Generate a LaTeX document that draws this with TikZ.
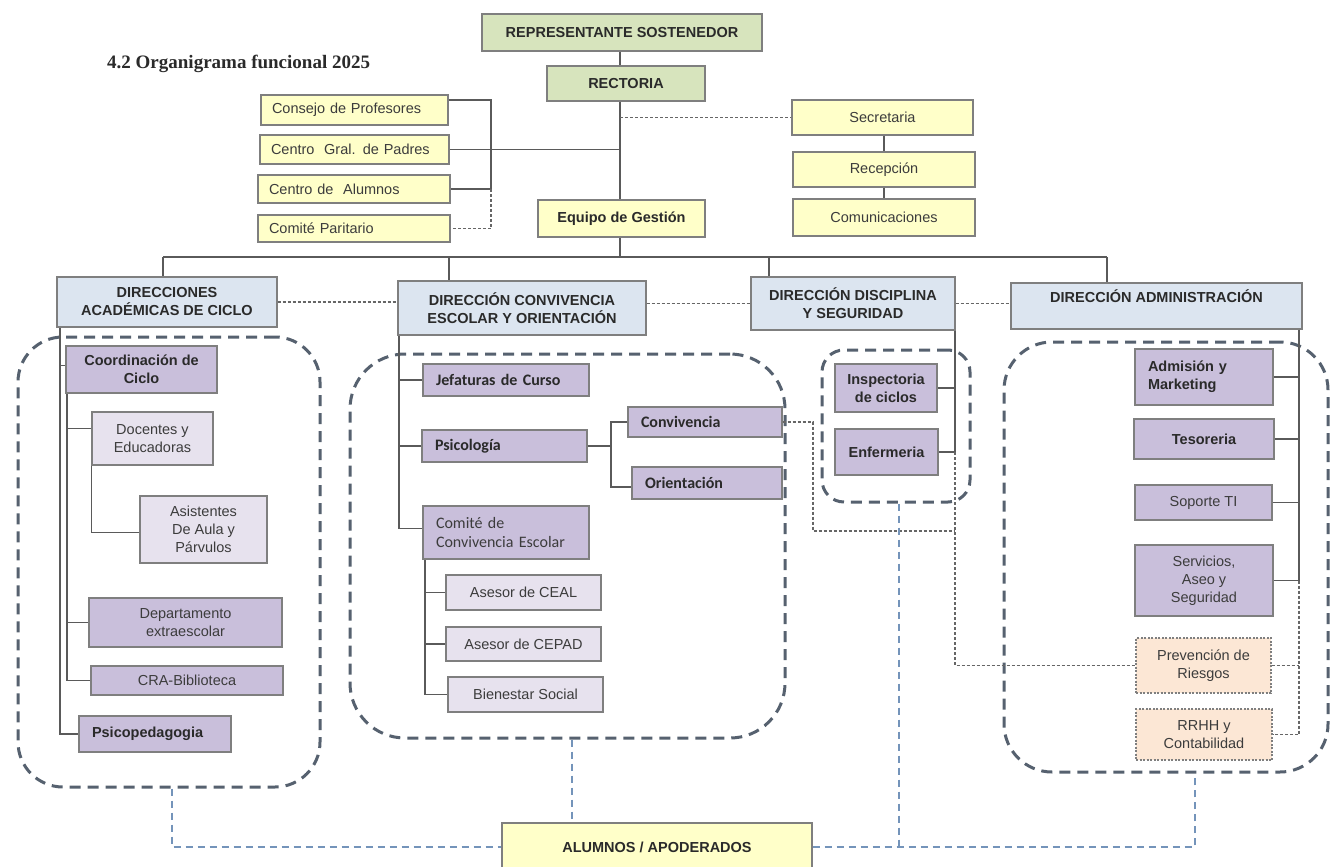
\documentclass[tikz,border=0pt]{standalone}
\usepackage{fontspec}
\setmainfont{Liberation Sans}
\newfontfamily\calf{Carlito}
\newfontfamily\serf{Liberation Serif}
\definecolor{gfill}{HTML}{D7E4BD}
\definecolor{yfill}{HTML}{FFFFC9}
\definecolor{hfill}{HTML}{DCE5F0}
\definecolor{pfill}{HTML}{C9BFDB}
\definecolor{lfill}{HTML}{E7E2EE}
\definecolor{ofill}{HTML}{FCE7D5}
\definecolor{bline}{HTML}{7F7F7F}
\definecolor{cline}{HTML}{5A5A5A}
\definecolor{dline}{HTML}{666666}
\definecolor{contc}{HTML}{56616F}
\definecolor{bdc}{HTML}{7494BA}
\definecolor{txt}{HTML}{2A2A2A}
\definecolor{txtn}{HTML}{3C3C3C}
\begin{document}
\begin{tikzpicture}[x=1pt,y=-1pt,
  box/.style={draw=bline,line width=1.2pt,inner sep=2pt,align=center,text=txtn,font=\fontsize{14.5}{18}\selectfont},
  bb/.style={text=txt,font=\fontsize{14.5}{18}\selectfont\bfseries},
  cb/.style={text=txt,font=\calf\fontsize{16}{19}\selectfont\bfseries},
  cr/.style={text=txtn,font=\calf\fontsize{16}{19}\selectfont},
  gbox/.style={box,fill=gfill,bb},
  ybox/.style={box,fill=yfill},
  hbox/.style={box,fill=hfill,bb},
  pbox/.style={box,fill=pfill},
  lbox/.style={box,fill=lfill},
  obox/.style={box,fill=ofill,dash pattern=on 2pt off 1.5pt},
  lft/.style={align=left,inner xsep=13pt,text width=#1},
  conn/.style={draw=cline,line width=1.6pt},
  dotc/.style={draw=dline,line width=1.6pt,dash pattern=on 3pt off 2pt},
  cont/.style={draw=contc,line width=3pt,dash pattern=on 11pt off 7pt,rounded corners=#1,inner sep=0pt},
  bdash/.style={draw=bdc,line width=1.8pt,dash pattern=on 7pt off 5pt},
]
\fill[white] (0,0) rectangle (1330,867);
\useasboundingbox (0,0) rectangle (1330,867);

% title
\node[anchor=base west,inner sep=0pt,text=txt,font=\serf\bfseries\fontsize{19}{23}\selectfont] (title) at (107,68) {4.2 Organigrama funcional 2025};

% top
\node[gbox,minimum width=280,minimum height=37] (rep) at (622,32.5) {REPRESENTANTE SOSTENEDOR};
\node[gbox,minimum width=158,minimum height=35] (rect) at (626,83.5) {RECTORIA};
\node[ybox,lft=165,inner xsep=11pt,minimum height=30] (cons) at (354.5,110) {Consejo de Profesores};
\node[ybox,lft=167,inner xsep=11pt,minimum height=29] (gral) at (354.5,149.5) {Centro~ Gral. de Padres};
\node[ybox,lft=170,inner xsep=11pt,minimum height=28] (alu) at (354,189) {Centro de~ Alumnos};
\node[ybox,lft=170,inner xsep=11pt,minimum height=27] (comi) at (354,228.5) {Comité Paritario};
\node[ybox,minimum width=181,minimum height=35] (sec) at (882.5,117.5) {Secretaria};
\node[ybox,minimum width=182,minimum height=35] (rec) at (884,169.5) {Recepción};
\node[ybox,minimum width=182,minimum height=37] (com) at (884,217.5) {Comunicaciones};
\node[ybox,bb,minimum width=167,minimum height=37] (eq) at (621.5,218.5) {Equipo de Gestión};

% headers
\node[hbox,minimum width=220,minimum height=50] (dac) at (167,302) {DIRECCIONES\\ACADÉMICAS DE CICLO};
\node[hbox,minimum width=248,minimum height=54] (dce) at (522,308) {DIRECCIÓN CONVIVENCIA\\ESCOLAR Y ORIENTACIÓN};
\node[hbox,minimum width=204,minimum height=53] (dds) at (853,303.5) {DIRECCIÓN DISCIPLINA\\Y SEGURIDAD};
\node[hbox,minimum width=291,minimum height=46] (dad) at (1156.5,306) {DIRECCIÓN ADMINISTRACIÓN\\[-4pt]\strut};

% left group
\node[pbox,bb,minimum width=151,minimum height=47] (coord) at (141.5,369.5) {Coordinación de\\Ciclo};
\node[lbox,minimum width=121,minimum height=53] (doc) at (152.5,438.5) {Docentes y\\Educadoras};
\node[lbox,minimum width=127,minimum height=67] (asis) at (203.5,529.5) {Asistentes\\De Aula y\\Párvulos};
\node[pbox,minimum width=193,minimum height=49] (dep) at (185.5,622.5) {Departamento\\extraescolar};
\node[pbox,minimum width=192,minimum height=29] (cra) at (187,680.5) {CRA-Biblioteca};
\node[pbox,bb,lft=126,minimum height=36] (psp) at (155,734) {Psicopedagogia};

% middle group
\node[pbox,cb,lft=140,minimum height=32] (jef) at (506,380) {Jefaturas de Curso};
\node[pbox,cb,lft=139,minimum height=32] (psi) at (504.5,446) {Psicología};
\node[pbox,cb,lft=128,minimum height=30] (conv) at (705,422) {Convivencia};
\node[pbox,cb,lft=124,minimum height=32] (ori) at (707,483) {Orientación};
\node[pbox,cr,lft=140,minimum height=53] (ccv) at (506,532.5) {Comité de\\Convivencia Escolar};
\node[lbox,minimum width=155,minimum height=35] (ceal) at (523.5,592.5) {Asesor de CEAL};
\node[lbox,minimum width=155,minimum height=34] (cepad) at (523.5,644) {Asesor de CEPAD};
\node[lbox,minimum width=155,minimum height=35] (bien) at (525.5,694.5) {Bienestar Social};

% discipline group
\node[pbox,bb,minimum width=102,minimum height=48] (insp) at (886,388) {Inspectoria\\de ciclos};
\node[pbox,bb,minimum width=103,minimum height=46] (enf) at (886.5,452) {Enfermeria};

% admin group
\node[pbox,bb,lft=112,minimum height=56] (adm) at (1204,377) {Admisión y\\Marketing};
\node[pbox,bb,minimum width=140,minimum height=40] (tes) at (1204,439) {Tesoreria};
\node[pbox,minimum width=137,minimum height=35] (sop) at (1203.5,502.5) {Soporte TI};
\node[pbox,minimum width=138,minimum height=71] (serv) at (1204,580.5) {Servicios,\\Aseo y\\Seguridad};
\node[obox,minimum width=135,minimum height=55] (prev) at (1203.5,665.5) {Prevención de\\Riesgos};
\node[obox,minimum width=136,minimum height=51] (rrhh) at (1204,734.5) {RRHH y\\Contabilidad};

% bottom
\node[ybox,bb,minimum width=310,minimum height=48] (alum) at (657,847) {ALUMNOS / APODERADOS};

% containers
\node[cont=45,minimum width=302,minimum height=450] (c1) at (169,562) {};
\node[cont=55,minimum width=435,minimum height=384] (c2) at (567.5,546) {};
\node[cont=22,minimum width=148,minimum height=152] (c3) at (896,426) {};
\node[cont=48,minimum width=324,minimum height=430] (c4) at (1166,557) {};

% spine coordinates
\coordinate (sp) at (620,0);
\coordinate (vl) at (491,0);
\coordinate (hl) at (0,257);
\coordinate (d1) at (163,257);
\coordinate (d2) at (449,257);
\coordinate (d3) at (769,257);
\coordinate (d4) at (1107,257);

% top connectors
\draw[conn] (rep.south -| sp) -- (rect.north -| sp);
\draw[conn] (rect.south -| sp) -- (eq.north -| sp);
\draw[conn] (eq.south -| sp) -- (sp |- hl);
\draw[conn] ([yshift=10pt]cons.east) -- ([yshift=10pt]cons.east -| vl) -- (vl |- alu.east) -- (alu.east);
\draw[conn] (gral.east) -- (gral.east -| sp);
\draw[dotc] (vl |- alu.east) -- (vl |- comi.east) -- (comi.east);
\draw[dotc] (sec.west -| sp) -- (sec.west);
\draw[conn] (sec.south -| rec.north) -- (rec.north);
\draw[conn] (rec.south) -- (com.north);
\draw[conn] (d1) -- (d4);
\draw[conn] (d1) -- (d1 |- dac.north);
\draw[conn] (d2) -- (d2 |- dce.north);
\draw[conn] (d3) -- (d3 |- dds.north);
\draw[conn] (d4) -- (d4 |- dad.north);
\draw[dotc] (dac.east) -- (dac.east -| dce.west);
\draw[dotc] (dds.west -| dce.east) -- (dds.west);
\draw[dotc] (dds.east) -- (dds.east -| dad.west);

% left group connectors
\coordinate (v1) at (60,0);
\coordinate (v1b) at (67,0);
\draw[conn] (v1 |- dac.south) -- (v1 |- psp.west) -- (psp.west);
\draw[conn] ([yshift=4pt]coord.west -| v1) -- ([yshift=4pt]coord.west);
\draw[conn] (v1b |- coord.south) -- (v1b |- cra.west) -- (cra.west);
\draw[conn] ([yshift=10pt]doc.west -| v1b) -- ([yshift=10pt]doc.west);
\draw[conn] (dep.west -| v1b) -- (dep.west);
\draw[conn] (doc.south west) -- ([yshift=-3pt]doc.south west |- asis.west) -- ([yshift=-3pt]asis.west);

% middle group connectors
\coordinate (v2) at (399,0);
\coordinate (v3) at (611,0);
\coordinate (v4) at (425,0);
\draw[conn] (v2 |- dce.south) -- ([yshift=4pt]v2 |- ccv.west) -- ([yshift=4pt]ccv.west);
\draw[conn] (jef.west -| v2) -- (jef.west);
\draw[conn] (psi.west -| v2) -- (psi.west);
\draw[conn] (psi.east) -- (psi.east -| v3);
\draw[conn] (conv.west) -- (conv.west -| v3) -- ([yshift=-4pt]v3 |- ori.west) -- ([yshift=-4pt]ori.west);
\draw[conn] (v4 |- ccv.south) -- (v4 |- bien.west) -- (bien.west);
\draw[conn] (ceal.west -| v4) -- (ceal.west);
\draw[conn] (cepad.west -| v4) -- (cepad.west);

% discipline connectors
\coordinate (v5) at (955,0);
\coordinate (v6) at (813,0);
\coordinate (h6) at (0,531);
\draw[conn] (v5 |- dds.south) -- (v5 |- enf.east) -- (enf.east);
\draw[conn] (insp.east -| v5) -- (insp.east);
\draw[dotc] (v5 |- enf.east) -- (v5 |- prev.west) -- (prev.west);
\draw[dotc] (conv.east) -- (conv.east -| v6) -- (v6 |- h6) -- (v5 |- h6);

% admin connectors
\coordinate (v7) at (1299,0);
\draw[conn] (v7 |- dad.south) -- (v7 |- serv.east) -- (serv.east);
\draw[conn] (adm.east) -- (adm.east -| v7);
\draw[conn] (tes.east) -- (tes.east -| v7);
\draw[conn] (sop.east) -- (sop.east -| v7);
\draw[dotc] (v7 |- serv.east) -- (v7 |- rrhh.east) -- (rrhh.east);
\draw[dotc] (prev.east) -- (prev.east -| v7);

% bottom dashed connectors
\coordinate (b1) at (172,0);
\coordinate (b2) at (572,0);
\coordinate (b3) at (899,0);
\coordinate (b4) at (1195,0);
\draw[bdash] (b1 |- c1.south) -- (b1 |- alum.west) -- (alum.west);
\draw[bdash] (b2 |- c2.south) -- (b2 |- alum.north);
\draw[bdash] (b3 |- c3.south) -- (b3 |- alum.east);
\draw[bdash] (alum.east) -- (b4 |- alum.east) -- (b4 |- c4.south);
\end{tikzpicture}
\end{document}
